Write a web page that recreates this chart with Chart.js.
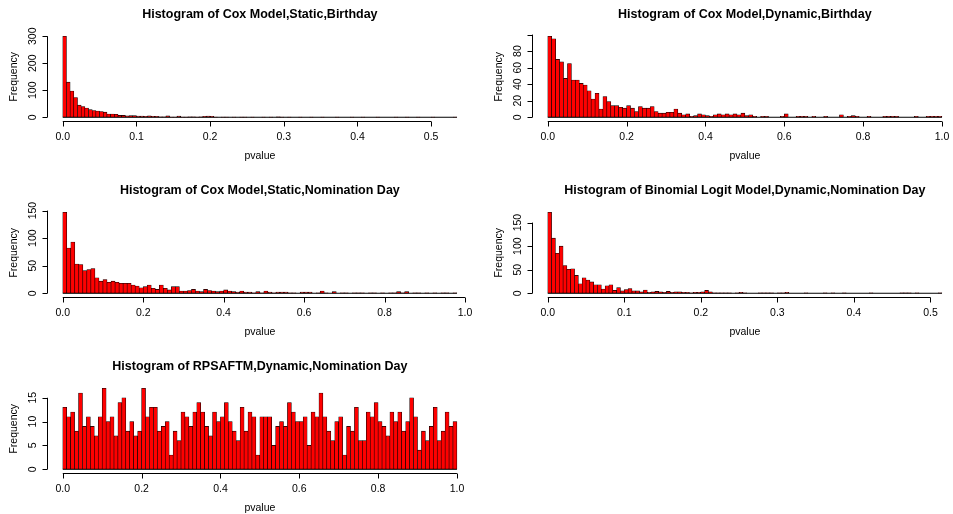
<!DOCTYPE html>
<html>
<head>
<meta charset="utf-8">
<script src="https://cdn.jsdelivr.net/npm/chart.js@4.4.1/dist/chart.umd.min.js"></script>
<style>
  html, body { margin: 0; padding: 0; background: #fff; }
  body { width: 953px; height: 514px; overflow: hidden; position: relative; }
  canvas { position: absolute; }
</style>
</head>
<body>
<canvas id="p1" width="485" height="176" style="left:0;top:0"></canvas>
<canvas id="p2" width="485" height="176" style="left:485px;top:0"></canvas>
<canvas id="p3" width="485" height="176" style="left:0;top:176px"></canvas>
<canvas id="p4" width="485" height="176" style="left:485px;top:176px"></canvas>
<canvas id="p5" width="485" height="176" style="left:0;top:352px"></canvas>
<script>
// histogram counts (bins start at 0)
const coxStaticBirthday = [
  300,130,97,73,45,40,34,28,25,23,21,19,12,12,11,7,7,5,6,6,
  4,4,3,5,3,3,2,2,5,1,1,4,1,1,2,2,1,2,3,4,
  3,1,0,1,1,0,1,0,1,1,0,1,0,0,1,0,1,0,2,1,
  0,1,0,0,1,0,0,1,0,0,1,0,0,0,1,0,0,0,1,0,
  0,1,0,0,0,1,0,0,0,0,1,0,0,1,0,0,1,0,0,0,
  1,0,0,0,0,0,1
];
const coxDynamicBirthday = [
  98,95,70,67,47,65,45,45,41,39,32,22,29,10,25,19,14,14,12,11,
  14,11,7,13,11,11,13,7,5,5,6,6,10,5,3,4,1,2,4,3,
  2,1,3,4,3,4,3,4,3,5,2,3,1,0,1,1,0,0,0,1,
  4,0,0,1,1,1,0,1,0,0,1,0,0,0,3,0,1,2,1,0,
  0,1,0,0,0,1,1,1,1,0,0,0,0,1,0,0,1,1,1,1
];
const coxStaticNomination = [
  147,82,93,53,52,41,43,45,28,22,25,20,22,20,18,18,18,15,13,10,
  12,15,9,7,15,9,6,12,12,4,4,5,7,4,3,7,5,4,3,4,
  6,4,3,2,4,2,2,1,3,1,4,2,1,2,2,2,1,1,0,2,
  2,2,0,1,4,1,0,3,0,1,1,0,1,1,1,0,1,1,0,1,
  0,1,1,3,1,3,0,1,1,0,1,0,1,0,1,1,0,1
];
const logitDynamicNomination = [
  172,117,85,100,59,51,52,38,20,33,28,24,18,18,9,16,18,6,12,5,
  8,10,5,5,3,7,2,3,4,3,2,4,2,3,3,2,2,1,2,2,
  3,6,3,1,1,1,1,1,0,1,2,1,0,0,0,1,1,1,1,0,
  1,1,2,0,0,0,0,1,0,0,0,0,1,0,1,0,0,1,0,0,
  0,0,0,0,1,0,0,0,0,0,0,0,1,1,1,0,1,0,0,0,
  0,0,1
];
const rpsaftmDynamicNomination = [
  13,11,12,8,16,9,11,9,7,11,17,10,11,7,14,15,8,10,7,8,
  17,11,13,13,8,9,10,3,8,6,12,11,9,12,14,12,9,7,12,10,
  11,14,10,8,6,13,8,12,11,3,11,11,11,5,9,10,9,14,12,10,
  10,11,5,12,11,16,11,8,6,10,11,3,9,8,13,6,6,12,11,14,
  10,9,7,12,10,12,8,10,15,11,4,8,6,9,13,6,8,12,9,10
];

const titles = [
  'Histogram of Cox Model,Static,Birthday',
  'Histogram of Cox Model,Dynamic,Birthday',
  'Histogram of Cox Model,Static,Nomination Day',
  'Histogram of Binomial Logit Model,Dynamic,Nomination Day',
  'Histogram of RPSAFTM,Dynamic,Nomination Day'
];
const binWidths = [0.005, 0.01, 0.01, 0.005, 0.01];

const xTicksHalf = [0, 0.1, 0.2, 0.3, 0.4, 0.5];
const xLabelsHalf = ['0.0', '0.1', '0.2', '0.3', '0.4', '0.5'];
const xTicksFull = [0, 0.2, 0.4, 0.6, 0.8, 1.0];
const xLabelsFull = ['0.0', '0.2', '0.4', '0.6', '0.8', '1.0'];

const yTicks1 = [0, 100, 200, 300];
const yLabels1 = ['0', '100', '200', '300'];
const yTicks2 = [0, 20, 40, 60, 80, 100];
const yLabels2 = ['0', '20', '40', '60', '80', ''];
const yTicks150 = [0, 50, 100, 150];
const yLabels150 = ['0', '50', '100', '150'];
const yTicks5 = [0, 5, 10, 15];
const yLabels5 = ['0', '5', '10', '15'];

const xTitle = 'pvalue';
const yTitle = 'Frequency';

// R-like axes: lines only span the tick range, sitting on the plot region edges
const rAxes = {
  id: 'rAxes',
  afterDraw(chart) {
    const { ctx, chartArea: a, scales: { x, y } } = chart;
    const p = chart.options.plugins.rAxes;
    ctx.save();
    ctx.strokeStyle = '#000';
    ctx.fillStyle = '#000';
    ctx.lineWidth = 1;

    const yb = Math.round(a.bottom) + 0.5;
    ctx.beginPath();
    ctx.moveTo(x.getPixelForValue(p.xTicks[0]), yb);
    ctx.lineTo(x.getPixelForValue(p.xTicks[p.xTicks.length - 1]), yb);
    p.xTicks.forEach(v => {
      const px = Math.round(x.getPixelForValue(v)) + 0.5;
      ctx.moveTo(px, yb);
      ctx.lineTo(px, yb + 5);
    });
    const xl = Math.round(a.left) + 0.5;
    ctx.moveTo(xl, y.getPixelForValue(p.yTicks[0]));
    ctx.lineTo(xl, y.getPixelForValue(p.yTicks[p.yTicks.length - 1]));
    p.yTicks.forEach(v => {
      const py = Math.round(y.getPixelForValue(v)) + 0.5;
      ctx.moveTo(xl, py);
      ctx.lineTo(xl - 5, py);
    });
    ctx.stroke();

    ctx.font = '10.5px "Liberation Sans", Arial, sans-serif';
    ctx.textAlign = 'center';
    ctx.textBaseline = 'middle';
    p.xTicks.forEach((v, i) => {
      ctx.fillText(p.xLabels[i], x.getPixelForValue(v), a.bottom + 17);
    });
    ctx.fillText(xTitle, (a.left + a.right) / 2, a.bottom + 35.5);

    p.yTicks.forEach((v, i) => {
      ctx.save();
      ctx.translate(a.left - 14, y.getPixelForValue(v));
      ctx.rotate(-Math.PI / 2);
      ctx.fillText(p.yLabels[i], 0, 0);
      ctx.restore();
    });
    ctx.save();
    ctx.translate(a.left - 33, (a.top + a.bottom) / 2);
    ctx.rotate(-Math.PI / 2);
    ctx.fillText(yTitle, 0, 0);
    ctx.restore();

    ctx.font = 'bold 12.5px "Liberation Sans", Arial, sans-serif';
    ctx.fillText(p.title, (a.left + a.right) / 2, a.top - 18);
    ctx.restore();
  }
};

function makeHist(id, title, counts, binWidth, xTicks, xLabels, yTicks, yLabels) {
  const xEnd = counts.length * binWidth;
  const yMax = Math.max(...counts);
  return new Chart(document.getElementById(id), {
    type: 'bar',
    data: {
      datasets: [
        {
          type: 'line',
          data: [{ x: 0, y: 0 }, { x: xEnd, y: 0 }],
          borderColor: '#000',
          borderWidth: 1,
          pointRadius: 0
        },
        {
          data: counts.map((c, i) => ({ x: (i + 0.5) * binWidth, y: c })),
          backgroundColor: '#ff0000',
          borderColor: '#000',
          borderWidth: 0.6,
          borderSkipped: false,
          barPercentage: 1,
          categoryPercentage: 1
        }
      ]
    },
    options: {
      responsive: false,
      animation: false,
      events: [],
      layout: { padding: { left: 47, top: 33, right: 12.3, bottom: 55.5 } },
      plugins: {
        legend: { display: false },
        tooltip: { enabled: false },
        rAxes: { title, xTicks, xLabels, yTicks, yLabels }
      },
      scales: {
        x: {
          type: 'linear', display: false, offset: false,
          min: -0.04 * xEnd, max: 1.04 * xEnd,
          ticks: { stepSize: xTicks[1] - xTicks[0], includeBounds: false }
        },
        y: {
          display: false,
          min: -0.04 * yMax, max: 1.04 * yMax
        }
      }
    },
    plugins: [rAxes]
  });
}

makeHist('p1', titles[0], coxStaticBirthday, binWidths[0], xTicksHalf, xLabelsHalf, yTicks1, yLabels1);
makeHist('p2', titles[1], coxDynamicBirthday, binWidths[1], xTicksFull, xLabelsFull, yTicks2, yLabels2);
makeHist('p3', titles[2], coxStaticNomination, binWidths[2], xTicksFull, xLabelsFull, yTicks150, yLabels150);
makeHist('p4', titles[3], logitDynamicNomination, binWidths[3], xTicksHalf, xLabelsHalf, yTicks150, yLabels150);
makeHist('p5', titles[4], rpsaftmDynamicNomination, binWidths[4], xTicksFull, xLabelsFull, yTicks5, yLabels5);
</script>
</body>
</html>
